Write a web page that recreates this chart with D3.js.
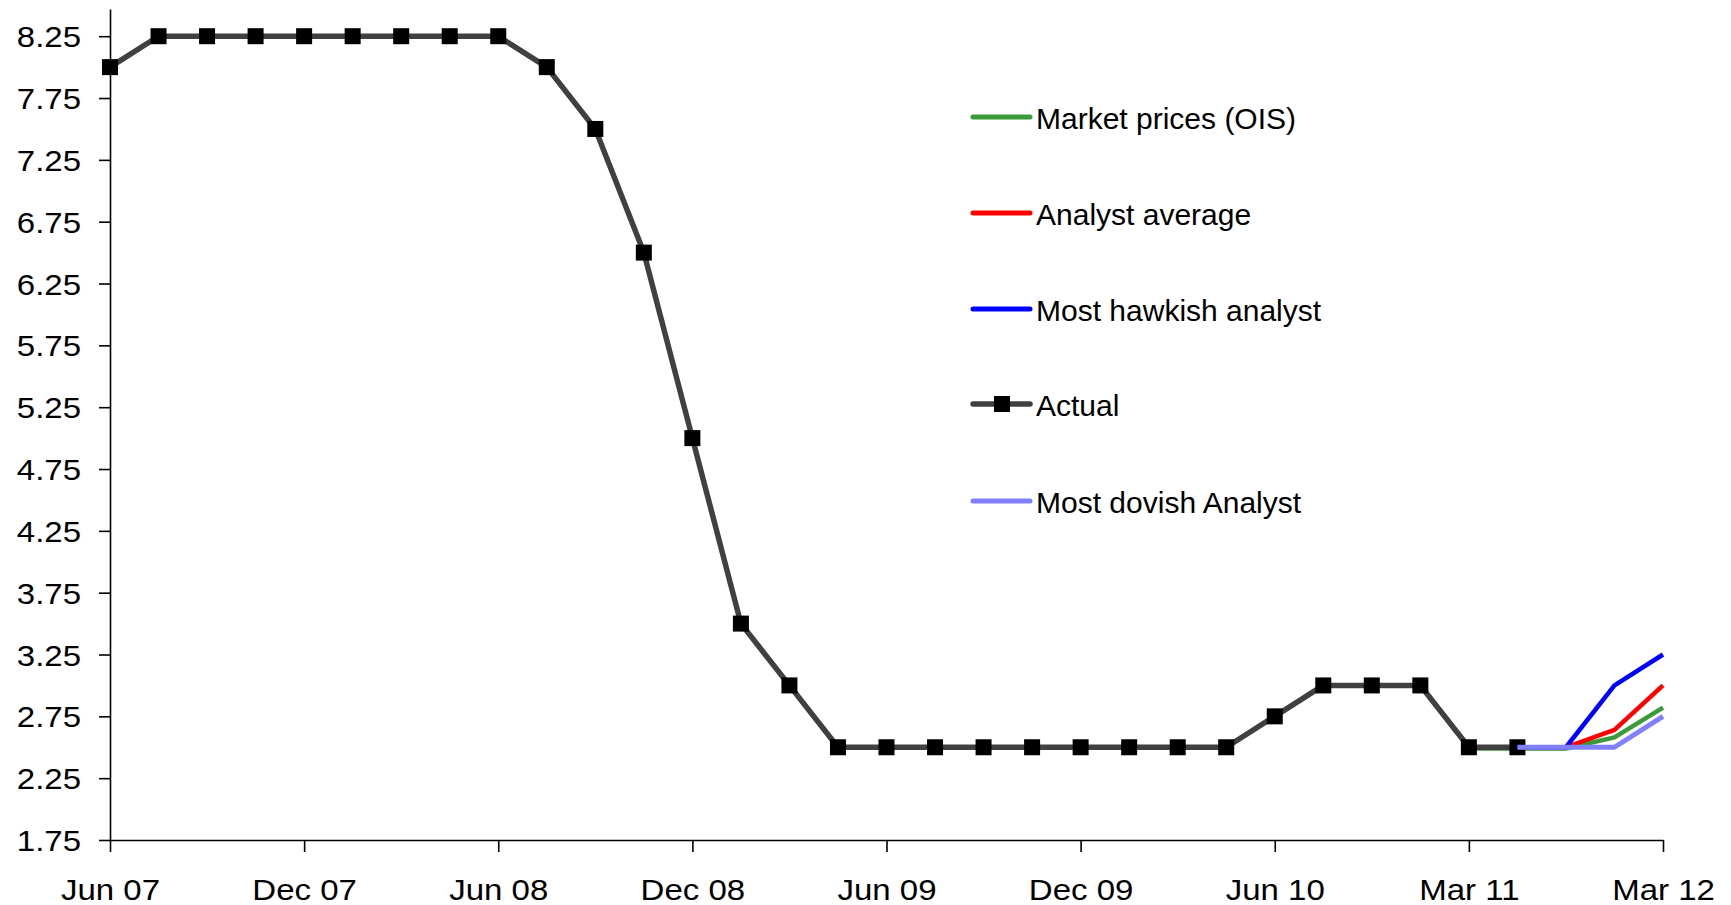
<!DOCTYPE html>
<html>
<head>
<meta charset="utf-8">
<script src="https://cdn.jsdelivr.net/npm/d3@7"></script>
<style>
  html, body { margin: 0; padding: 0; background: #fff; }
  svg { display: block; }
  text { font-family: "Liberation Sans", Arial, sans-serif; fill: #000; }
</style>
</head>
<body>
<svg id="chart" width="1731" height="905"></svg>
<script>
// Official cash rate: decisions on a categorical axis, forecasts for the final points
const pointCount = 33;
const tickIndex = [0, 4, 8, 12, 16, 20, 24, 28, 32];
const tickText = ["Jun 07", "Dec 07", "Jun 08", "Dec 08", "Jun 09", "Dec 09", "Jun 10", "Mar 11", "Mar 12"];
const yTicks = [1.75, 2.25, 2.75, 3.25, 3.75, 4.25, 4.75, 5.25, 5.75, 6.25, 6.75, 7.25, 7.75, 8.25];

const actual = [8.00, 8.25, 8.25, 8.25, 8.25, 8.25, 8.25, 8.25, 8.25, 8.00, 7.50, 6.50, 5.00, 3.50, 3.00,
                2.50, 2.50, 2.50, 2.50, 2.50, 2.50, 2.50, 2.50, 2.50, 2.75, 3.00, 3.00, 3.00, 2.50, 2.50];
const actualStart = 0;

const marketOIS = [2.49, 2.49, 2.49, 2.58, 2.82];
const marketStart = 28;
const analystAverage = [3.00, 2.50, 2.50, 2.50, 2.64, 3.00];
const analystStart = 27;
const hawkish = [2.50, 2.50, 2.50, 3.00, 3.25];
const hawkishStart = 28;
const dovish = [2.50, 2.50, 2.50, 2.75];
const dovishStart = 29;

const seriesNames = ["Market prices (OIS)", "Analyst average", "Most hawkish analyst", "Actual", "Most dovish Analyst"];
const seriesColors = ["#3a9a3a", "#ff0000", "#0000ff", "#404040", "#8080ff"];

const svg = d3.select("#chart");
const x = d3.scalePoint().domain(d3.range(pointCount)).range([110, 1663]);
const y = d3.scaleLinear().domain([1.75, 8.47]).range([840, 9]);

// slightly wide axis lettering
function widen(sel, factor) {
  sel.each(function () {
    const len = this.getComputedTextLength();
    d3.select(this).attr("textLength", len * factor).attr("lengthAdjust", "spacingAndGlyphs");
  });
}

// axes
const yAxis = d3.axisLeft(y).tickValues(yTicks).tickFormat(d3.format(".2f")).tickSize(11).tickSizeOuter(0).tickPadding(18);
const gy = svg.append("g").attr("transform", `translate(110,0)`).call(yAxis);
gy.select(".domain").attr("stroke", "#000").attr("stroke-width", 1.6);
gy.selectAll(".tick line").attr("stroke", "#000").attr("stroke-width", 1.6);
gy.selectAll(".tick text").style("font-size", "30px").attr("dy", "0.35em").call(widen, 1.1);

const xAxis = d3.axisBottom(x).tickValues(tickIndex).tickFormat((d, i) => tickText[i]).tickSize(12).tickSizeOuter(0).tickPadding(27);
const gx = svg.append("g").attr("transform", `translate(0,840)`).call(xAxis);
gx.select(".domain").attr("stroke", "#000").attr("stroke-width", 1.6);
gx.selectAll(".tick line").attr("stroke", "#000").attr("stroke-width", 1.6);
gx.selectAll(".tick text").style("font-size", "30px").call(widen, 1.1);

// lines
const line = d3.line().x(d => x(d.i)).y(d => y(d.v));
const toPoints = (vals, start) => vals.map((v, k) => ({ i: start + k, v }));

const series = [
  { pts: toPoints(marketOIS, marketStart), color: seriesColors[0], width: 4.5 },
  { pts: toPoints(analystAverage, analystStart), color: seriesColors[1], width: 4.5 },
  { pts: toPoints(hawkish, hawkishStart), color: seriesColors[2], width: 4.5 },
  { pts: toPoints(actual, actualStart), color: seriesColors[3], width: 5.5, markers: true },
  { pts: toPoints(dovish, dovishStart), color: seriesColors[4], width: 5 }
];

series.forEach(s => {
  svg.append("path").datum(s.pts)
    .attr("d", line)
    .attr("fill", "none")
    .attr("stroke", s.color)
    .attr("stroke-width", s.width)
    .attr("stroke-linejoin", "round")
    .attr("stroke-linecap", "butt");
  if (s.markers) {
    svg.append("g").selectAll("rect").data(s.pts).join("rect")
      .attr("x", d => x(d.i) - 8)
      .attr("y", d => y(d.v) - 8)
      .attr("width", 16)
      .attr("height", 16)
      .attr("fill", "#000");
  }
});

// legend
const legendY = [117, 213, 309, 404, 501];
const legend = svg.append("g");
seriesNames.forEach((name, k) => {
  const g = legend.append("g").attr("transform", `translate(0,${legendY[k]})`);
  g.append("line")
    .attr("x1", 973).attr("x2", 1030).attr("y1", 0).attr("y2", 0)
    .attr("stroke", seriesColors[k])
    .attr("stroke-width", k === 3 ? 5.5 : 5)
    .attr("stroke-linecap", "round");
  if (k === 3) {
    g.append("rect").attr("x", 994).attr("y", -8).attr("width", 16).attr("height", 16).attr("fill", "#000");
  }
  g.append("text")
    .attr("x", 1036)
    .attr("y", 12)
    .style("font-size", "30px")
    .text(name);
});
</script>
</body>
</html>
